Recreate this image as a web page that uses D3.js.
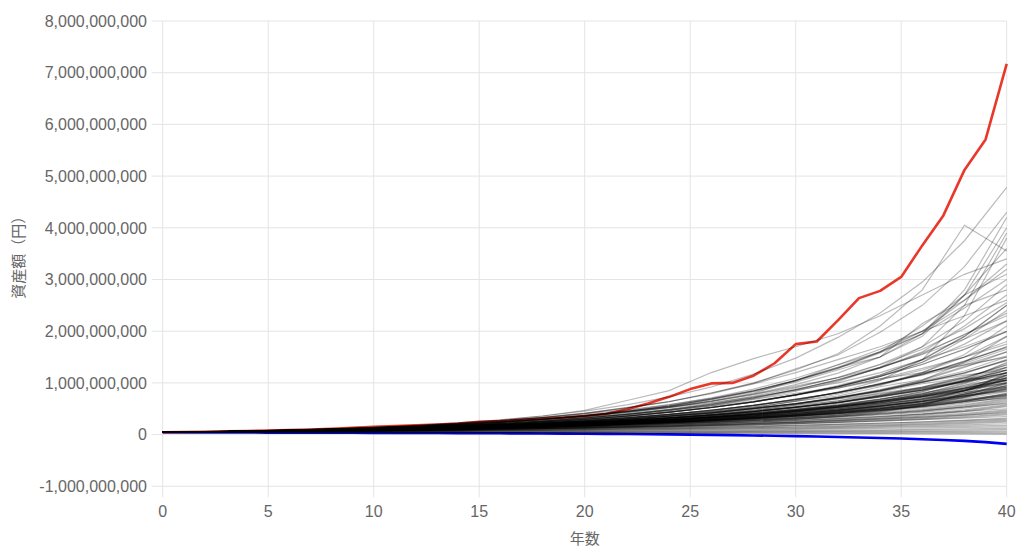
<!DOCTYPE html>
<html><head><meta charset="utf-8">
<script src="https://cdn.jsdelivr.net/npm/d3@7"></script>
<style>
body{margin:0;background:#fff}
svg{display:block}
text{font-family:"Liberation Sans",Arial,"Noto Sans CJK JP",sans-serif;fill:#666}
.cjk{font-family:"Noto Sans CJK JP","Liberation Sans",sans-serif}
</style>
</head><body>
<svg id="chart" width="1024" height="555"></svg>
<script>
// ---- data (values in millions of yen) ----
const UNIT = 1e6;
const years = [0,1,2,3,4,5,6,7,8,9,10,11,12,13,14,15,16,17,18,19,20,21,22,23,24,25,26,27,28,29,30,31,32,33,34,35,36,37,38,39,40];
const grayYears = [0,2,4,6,8,10,12,14,16,18,20,22,24,26,28,30,32,34,36,38,40];
const xTicks = [0,5,10,15,20,25,30,35,40];
const yTicks = [-1e9,0,1e9,2e9,3e9,4e9,5e9,6e9,7e9,8e9];
const xTitle = "年数";
const yTitle = "資産額（円）";

const maxPath = [44,50,56,63,70,78,86,100,112,130,150,165,180,195,215,250,262,285,310,330,360,400,490,600,730,880,990,1000,1140,1380,1750,1800,2210,2640,2780,3050,3660,4240,5120,5710,7170];
const minPath = [44,43,42,41,40,39,38,37,36,35,33,32,31,30,28,27,25,23,21,19,17,14,11,8,4,0,-5,-10,-16,-22,-30,-38,-46,-55,-65,-76,-90,-105,-122,-145,-180];

const pathsHigh = [
[44,56,70,89,112,142,178,225,285,360,455,575,730,920,1170,1480,1880,2350,2950,3750,4780],
[44,55,69,86,107,134,168,210,262,328,410,512,640,800,1000,1250,1563,2100,2800,4050,3550],
[44,55,68,87,106,136,166,212,258,332,405,520,630,810,990,1270,1540,1980,2500,3250,4300],
[44,54,67,83,102,126,156,193,238,294,363,448,554,684,845,1044,1350,1600,2100,2700,4000],
[44,56,70,88,110,140,175,220,280,360,470,660,850,1200,1470,1700,1950,2300,2700,3100,3400],
[44,54,66,84,101,127,154,195,236,297,360,452,548,690,838,1050,1280,1600,1950,2450,3000],
[44,57,72,90,112,140,174,216,268,330,400,480,580,700,850,1050,1300,1600,2000,2600,3200],
[44,55,68,85,105,130,162,200,248,306,378,466,575,710,880,1090,1350,1650,2000,2500,2800],
[44,52,62,74,88,105,125,150,180,216,260,312,375,450,540,650,820,1050,1450,2300,3800],
[44,55,68,84,104,128,158,195,240,296,365,450,555,685,845,1040,1280,1580,1950,2700,3600],
[44,54,66,80,98,120,147,180,220,270,330,404,494,604,740,905,1110,1360,1700,2200,2900],
[44,54,67,82,101,124,153,188,231,284,349,430,528,650,800,1050,1300,1500,2150,2600,3300],
[44,56,70,88,110,137,171,214,267,333,416,520,640,790,980,1200,1450,1700,2000,2300,2600],
[44,53,64,78,95,116,141,172,210,256,312,380,464,566,690,842,1030,1300,1700,2500,3900],
[44,53,64,78,94,114,138,167,202,245,296,358,433,524,634,768,950,1150,1450,1900,2500],
[44,56,69,85,104,128,158,194,238,293,360,443,545,670,824,1015,1250,1500,1900,2700,3100],
[44,54,66,81,100,123,151,186,229,282,346,425,522,640,787,968,1190,1500,1950,2800,4200],
[44,55,68,84,104,128,158,195,240,296,365,450,540,650,780,940,1100,1300,1550,1850,2200],
[44,54,65,80,97,119,145,177,216,263,321,392,478,583,711,868,1058,1291,1600,2100,2700],
[44,56,70,87,108,134,165,203,248,302,366,440,525,620,730,860,1000,1200,1450,1700,2000],
[44,55,68,84,104,128,158,195,240,296,360,440,530,640,770,920,1100,1350,1650,2050,2550],
[44,53,64,78,94,114,138,167,202,245,296,358,433,524,634,768,929,1124,1400,1850,2400]
];
const pathsUpper = [
[44,54,66,79,98,118,146,176,218,262,324,390,482,580,716,865,1065,1285,1580,1930,2350],
[44,53,64,78,94,114,138,167,202,245,296,358,433,524,634,768,929,1124,1360,1646,1993],
[44,53,63,77,93,112,137,165,200,244,293,356,430,520,630,760,930,1150,1450,1900,2500],
[44,53,63,76,91,109,131,158,189,227,272,327,392,471,565,678,813,976,1171,1405,1700],
[44,53,64,75,92,108,132,156,190,224,274,320,395,460,570,660,820,950,1180,1380,1650],
[44,52,62,74,88,105,125,149,177,211,251,298,355,422,502,598,711,847,1008,1199,1430],
[44,54,65,80,97,119,145,177,216,263,321,385,460,550,650,770,900,1060,1250,1500,1800],
[44,52,62,74,88,105,125,149,177,211,251,300,360,435,525,640,780,960,1200,1550,2100],
[44,52,61,73,85,102,119,142,165,197,230,275,321,382,446,532,621,740,865,1030,1200],
[44,54,64,79,94,115,137,168,201,247,295,360,431,528,630,772,925,1130,1355,1655,1990],
[44,53,63,76,91,109,131,158,189,227,272,327,392,471,565,678,813,976,1150,1350,1600],
[44,52,61,72,85,101,119,140,165,195,230,275,330,395,475,575,700,850,1050,1400,1900],
[44,52,63,74,89,105,126,149,178,210,252,297,356,421,503,596,713,845,1010,1195,1450],
[44,55,65,81,97,120,144,178,215,265,320,395,475,590,705,875,1050,1300,1560,1940,2300],
[44,52,61,72,86,101,120,140,166,195,231,272,322,378,447,527,622,733,866,1040,1250],
[44,51,60,70,82,96,113,132,154,181,212,247,290,339,396,464,543,650,780,920,1100],
[44,53,63,76,91,109,131,158,189,227,272,327,392,471,565,678,813,976,1200,1500,1900],
[44,52,62,73,88,104,125,148,177,210,251,297,355,421,502,597,711,860,1030,1230,1500],
[44,53,64,78,94,114,138,167,202,245,296,358,433,524,634,768,900,1080,1280,1500,1750],
[44,53,63,77,90,110,130,160,188,230,270,330,390,475,560,685,810,985,1165,1420,1700],
[44,52,61,72,85,101,119,140,165,195,230,272,321,378,446,527,621,760,920,1100,1350],
[44,52,62,74,88,105,125,149,177,211,251,298,355,422,502,598,720,870,1050,1300,1600],
[44,54,65,80,97,119,145,177,216,263,321,392,478,560,680,800,920,1080,1200,1350,1500],
[44,52,61,72,85,101,119,140,165,195,230,272,321,378,446,527,621,745,880,1060,1300],
[44,53,64,78,94,114,138,167,202,245,296,358,433,524,634,768,929,1124,1400,1750,2200]
];
const pathsMid = [
[44,51,60,70,82,96,113,132,154,181,212,247,290,339,396,470,560,680,830,1050,1400],
[44,52,62,72,84,100,120,139,166,193,232,270,318,380,442,530,620,760,900,1100,1350],
[44,51,59,69,80,92,107,124,144,167,194,228,268,316,372,440,525,640,790,1000,1300],
[44,53,63,74,87,103,121,142,166,194,226,262,304,352,410,478,560,660,790,980,1250],
[44,52,60,72,86,100,118,141,164,196,228,274,320,376,448,525,625,730,860,1030,1200],
[44,50,58,68,79,92,108,126,147,172,201,235,275,322,378,445,525,620,740,900,1150],
[44,52,61,71,83,97,113,132,155,181,211,246,287,334,389,452,526,615,730,880,1100],
[44,51,59,68,79,92,107,125,146,170,198,231,269,313,364,424,495,580,690,840,1080],
[44,53,62,73,86,100,117,136,158,183,212,245,283,327,378,437,505,590,700,850,1050],
[44,51,60,70,82,96,113,132,154,181,212,247,290,339,396,464,543,635,743,860,1000],
[44,50,57,66,76,88,102,118,137,160,186,217,253,295,344,401,468,548,642,780,980],
[44,52,60,69,80,93,108,125,145,168,195,226,262,304,352,408,473,550,640,770,950],
[44,51,58,67,78,90,104,121,140,162,188,218,253,293,340,394,458,532,620,745,920],
[44,49,56,64,74,85,98,113,131,152,177,206,240,280,326,380,443,516,602,720,900],
[44,52,61,71,82,95,110,127,146,168,193,222,256,295,340,392,452,522,605,720,880],
[44,51,59,69,80,92,107,124,144,167,194,225,261,303,351,408,473,548,636,738,850],
[44,50,58,67,77,89,103,119,138,160,185,214,248,287,332,384,444,514,596,700,830],
[44,52,60,70,81,93,107,123,141,162,186,213,244,280,321,368,422,484,556,660,800],
[44,51,58,66,76,87,100,115,132,152,175,201,231,266,306,352,405,466,540,640,780],
[44,49,55,63,72,83,96,111,128,148,171,198,229,265,307,355,410,475,550,640,760],
[44,50,57,65,74,85,98,112,129,148,170,195,224,257,295,339,390,449,517,610,740],
[44,51,58,67,77,88,102,117,135,155,178,205,235,271,311,358,412,473,545,626,720],
[44,52,60,69,79,90,103,117,133,151,172,196,223,254,289,329,375,427,487,580,700],
[44,50,56,64,73,83,95,108,123,140,160,183,209,239,273,312,357,408,467,560,680],
[44,49,55,62,70,80,91,104,118,135,154,176,201,230,263,301,344,394,452,540,660],
[44,51,58,66,75,86,98,111,126,143,162,184,209,237,269,306,348,396,450,530,640],
[44,50,57,64,73,83,94,107,121,137,155,176,200,227,258,293,333,379,431,510,620],
[44,50,57,65,74,85,97,110,126,143,163,186,212,242,276,314,358,409,466,531,600],
[44,48,53,59,66,74,83,94,106,120,137,157,181,210,245,290,350,430,560,800,1200],
[44,55,67,80,96,114,135,158,184,213,246,283,325,372,425,485,555,640,740,860,1000],
[44,52,61,72,84,99,116,136,160,188,220,258,302,354,415,486,570,680,830,1050,1250],
[44,51,59,68,79,91,105,121,140,162,187,216,250,289,334,386,450,540,660,850,1150],
[44,53,62,73,85,99,116,135,158,184,215,251,293,342,399,466,544,640,760,950,1200],
[44,50,57,66,76,88,101,116,134,154,178,205,236,272,313,361,416,490,600,760,1000],
[44,52,60,70,81,94,109,126,146,169,196,227,263,305,353,409,474,560,680,850,1100],
[44,49,56,64,73,84,96,110,126,144,165,189,216,247,283,324,371,450,560,720,950],
[44,52,61,71,83,97,113,132,154,180,210,245,286,334,390,455,531,620,740,900,1050],
[44,51,58,67,77,89,102,117,135,155,178,205,236,271,312,359,413,500,640,850,1150],
[44,50,58,67,77,89,103,119,137,158,182,210,242,279,322,371,428,500,600,740,900],
[44,51,60,70,82,96,112,131,153,179,209,244,285,333,389,454,530,619,723,845,980],
[44,49,56,64,73,83,95,109,125,143,164,188,216,248,285,328,377,460,580,780,1100],
[44,53,62,73,86,101,118,138,161,188,220,257,300,350,409,478,558,652,762,890,1040]
];
const pathsCore = [
[44,53,63,77,90,110,130,160,187,230,270,330,388,476,560,685,805,985,1160,1420,1680],
[44,52,62,73,89,104,126,147,179,208,254,295,359,418,508,592,720,838,1020,1185,1440],
[44,52,61,72,84,102,118,142,163,198,228,276,318,383,442,534,615,742,858,1035,1190],
[44,51,60,71,81,97,112,134,152,184,210,251,287,344,392,470,538,643,736,880,1005],
[44,51,59,70,79,93,106,126,142,170,192,228,258,307,347,414,468,555,630,748,845],
[44,51,58,68,76,89,101,119,133,157,176,208,232,275,307,363,407,480,538,635,712],
[44,52,62,74,86,105,120,148,168,207,236,290,333,408,466,572,655,805,920,1125,1300],
[44,52,61,72,83,99,114,138,157,191,217,264,300,364,415,503,572,693,790,955,1090],
[44,51,60,71,80,95,108,130,146,177,199,240,270,326,364,442,496,600,675,815,920],
[44,53,63,76,88,108,126,155,180,222,256,316,365,452,520,645,745,925,1065,1320,1520],
[44,53,64,77,92,110,132,158,189,226,268,318,375,440,515,600,690,790,900,1020,1150],
[44,50,57,65,74,85,97,112,129,149,173,202,237,278,327,386,458,545,650,780,940],
[44,52,61,73,84,100,118,137,163,190,226,262,312,360,430,495,590,680,810,930,1120],
[44,51,60,69,81,94,109,127,147,171,199,231,268,311,361,419,486,564,654,760,880],
[44,52,62,73,86,101,120,141,167,197,233,276,326,385,455,538,636,752,889,1050,1240],
[44,51,59,69,80,93,108,126,146,169,196,228,264,306,356,413,480,556,645,750,870],
[44,52,62,74,88,104,124,147,175,208,247,294,349,415,493,586,696,827,983,1100,1050],
[44,51,60,70,82,96,112,131,153,179,209,244,285,333,389,455,531,640,760,900,1060],
[44,52,61,72,85,100,118,139,164,193,228,269,318,375,442,521,615,726,856,1010,1190],
[44,50,58,67,77,89,103,119,137,158,183,211,244,282,326,376,435,502,580,670,775],
[44,53,62,74,87,103,122,144,170,201,238,281,333,394,466,551,652,772,913,1080,1380],
[44,51,59,68,79,91,105,121,140,161,186,215,248,286,330,381,440,508,587,678,780],
[44,52,60,70,81,94,109,127,148,172,200,233,271,316,368,428,498,580,675,786,915],
[44,51,60,70,82,95,111,129,150,175,204,238,277,323,377,439,512,597,696,811,945],
[44,52,61,71,83,97,113,132,154,180,210,245,286,334,390,455,531,620,724,845,1060],
[44,50,57,65,75,86,99,114,131,151,174,200,230,265,305,351,404,465,535,640,800],
[44,53,63,75,89,106,126,150,178,212,252,300,357,425,506,602,716,852,1014,1150,1250],
[44,51,59,68,78,90,104,120,138,159,183,211,243,280,322,371,427,492,567,653,750],
[44,52,61,72,84,98,115,135,158,185,217,254,297,348,408,478,560,656,769,901,1055],
[44,51,58,67,77,89,102,118,136,157,181,209,241,278,321,370,427,493,569,657,760]
];
const pathsLower = [
[44,50,56,63,71,80,90,102,115,130,147,166,188,213,241,273,309,350,400,480,580],
[44,51,58,66,74,83,93,105,118,132,148,166,186,209,235,265,300,340,390,460,560],
[44,49,55,61,68,76,85,95,106,119,134,151,170,192,218,248,283,324,372,445,540],
[44,50,56,63,72,81,92,104,117,132,149,169,191,216,244,275,311,351,397,449,500],
[44,48,53,59,66,74,83,93,104,117,132,149,168,190,215,243,275,312,355,410,480],
[44,50,56,62,69,77,86,96,107,120,134,150,168,188,211,237,266,299,337,390,460],
[44,49,54,60,67,75,84,93,104,116,129,144,161,180,202,226,253,284,320,370,440],
[44,49,55,62,69,78,87,97,109,122,137,153,171,192,215,241,269,302,338,378,420],
[44,50,55,61,68,76,84,93,103,114,126,140,156,174,194,217,243,273,307,350,400],
[44,48,52,57,63,70,78,87,97,108,120,134,150,168,188,210,235,263,295,335,380],
[44,49,54,60,67,74,82,91,101,113,125,139,154,171,190,211,234,259,288,320,350],
[44,47,51,56,61,67,73,80,88,97,107,118,130,144,160,178,198,220,245,280,320],
[44,48,53,59,64,71,78,86,94,104,114,125,138,152,167,184,202,222,244,269,300],
[44,49,54,58,63,68,74,81,88,96,105,115,126,138,151,166,182,200,222,250,280],
[44,47,50,54,58,63,68,74,80,87,95,104,114,125,137,151,166,183,203,230,260]
];
const pathsLow = [
[44,48,51,55,60,65,70,75,81,88,95,103,111,120,130,142,156,172,190,212,240],
[44,47,50,53,57,61,65,70,75,81,87,94,101,109,118,128,140,154,170,188,210],
[44,46,49,52,55,58,62,66,70,75,80,86,92,99,107,116,126,138,150,164,180],
[44,46,48,50,52,55,58,61,64,68,72,77,82,88,94,101,109,118,128,138,150],
[44,45,47,48,50,52,54,56,58,61,64,67,70,74,78,83,88,94,101,110,120],
[44,45,45,46,47,48,49,51,52,54,56,58,60,63,66,70,74,79,84,89,95],
[44,44,44,44,45,45,46,46,47,48,49,50,52,54,56,58,60,62,64,67,70],
[44,43,42,42,41,41,41,41,41,42,42,43,43,44,45,46,47,48,48,49,50],
[44,43,42,41,40,39,38,37,36,36,35,35,34,34,33,33,32,32,31,31,30],
[44,42,41,39,38,36,35,33,32,31,30,29,27,25,23,21,19,17,15,13,10]
];

// ---- layout ----
const svg = d3.select("#chart");
const L = 162.7, R = 1006.7, T = 21, B = 486.3;
const x = d3.scaleLinear().domain([0,40]).range([L,R]);
const y = d3.scaleLinear().domain([-1e9,8e9]).range([B,T]);
const fmt = v => d3.format(",")(v).replace("\u2212","-");

// grid
const grid = svg.append("g");
grid.selectAll(".hg").data(yTicks).join("line")
  .attr("x1", L-11).attr("x2", R)
  .attr("y1", d=>y(d)).attr("y2", d=>y(d))
  .attr("stroke", "#e4e4e4").attr("stroke-width", 1);
grid.selectAll(".vg").data(xTicks).join("line")
  .attr("x1", d=>x(d)).attr("x2", d=>x(d))
  .attr("y1", T).attr("y2", B+11)
  .attr("stroke", "#e4e4e4").attr("stroke-width", 1);

// tick labels
svg.append("g").selectAll("text").data(yTicks).join("text")
  .attr("x", 147).attr("y", d=>y(d)).attr("dy","0.36em")
  .attr("text-anchor","end").attr("font-size","16px")
  .text(fmt);
svg.append("g").selectAll("text").data(xTicks).join("text")
  .attr("x", d=>x(d)).attr("y", 517)
  .attr("text-anchor","middle").attr("font-size","16px")
  .text(d=>d);

// titles
svg.append("text").attr("class","cjk")
  .attr("x", x(20)).attr("y", 544).attr("text-anchor","middle")
  .attr("font-size","15px").text(xTitle);
svg.append("text").attr("class","cjk")
  .attr("transform", `translate(24,${(T+B)/2}) rotate(-90)`)
  .attr("text-anchor","middle").attr("font-size","15px").text(yTitle);

// lines
const yearLine = d3.line().x((d,i)=>x(years[i])).y(d=>y(d*UNIT));
const grayLine = d3.line().x((d,i)=>x(grayYears[i])).y(d=>y(d*UNIT));

svg.append("path").datum(minPath).attr("d", yearLine)
  .attr("fill","none").attr("stroke","#0000f5").attr("stroke-width",2.6).attr("stroke-linejoin","round");
svg.append("path").datum(maxPath).attr("d", yearLine)
  .attr("fill","none").attr("stroke","#e9382a").attr("stroke-width",2.6).attr("stroke-linejoin","round");

const allGray = [].concat(pathsHigh, pathsUpper, pathsMid, pathsCore, pathsLower, pathsLow);
svg.append("g").selectAll("path").data(allGray).join("path")
  .attr("d", grayLine)
  .attr("fill","none").attr("stroke","rgba(0,0,0,0.27)").attr("stroke-width",1.2);
</script>
</body></html>
